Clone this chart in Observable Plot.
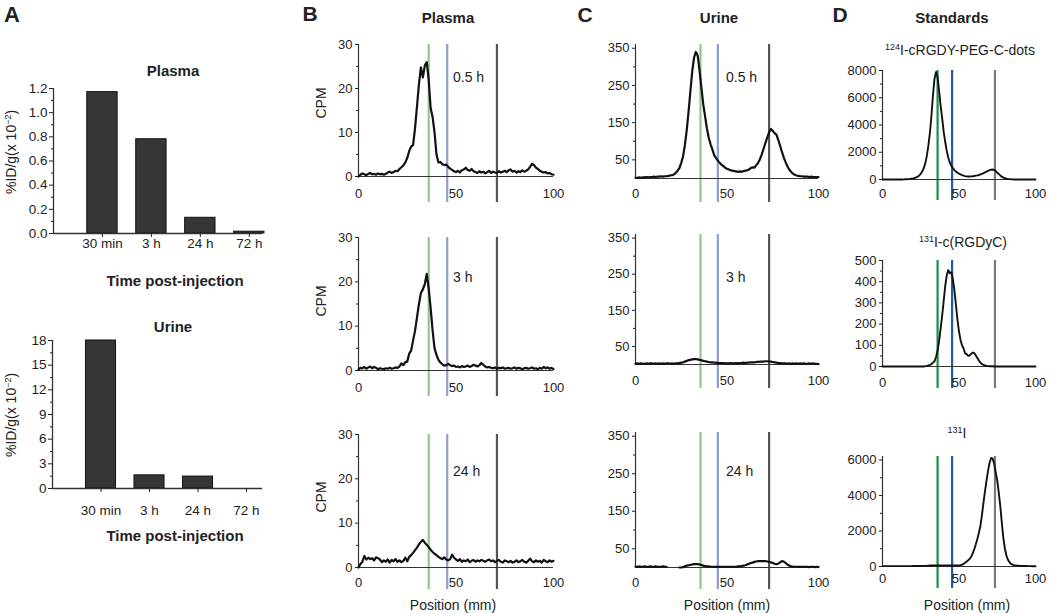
<!DOCTYPE html>
<html><head><meta charset="utf-8">
<script src="https://cdn.jsdelivr.net/npm/d3@7"></script>
<script src="https://cdn.jsdelivr.net/npm/@observablehq/plot@0.6"></script>
<style>
body{margin:0;background:#fff;}
#fig{position:relative;width:1050px;height:614px;font-family:"Liberation Sans",Arial,sans-serif;color:#222;overflow:hidden;background:#fff}
#fig svg{position:absolute;}
.lbl{position:absolute;white-space:nowrap;line-height:1}
.lbl sup{font-size:0.64em;vertical-align:0.55em;line-height:0}
</style></head><body><div id="fig"></div><script>
// ---------- DATA ----------
const timeCats = ["30 min", "3 h", "24 h", "72 h"];
const plasmaPct = [1.17, 0.78, 0.13, 0.015];
const urinePct = [18.0, 1.6, 1.45, 0];
const plasmaTicks = [0, 0.2, 0.4, 0.6, 0.8, 1.0, 1.2];
const urineTicks = [0, 3, 6, 9, 12, 15, 18];

const positionMm = d3.range(0, 101); // 1 mm grid of the radio-TLC scans

const plasma05h = [0,0.4,0.7,0.5,0.3,0.6,0.8,0.5,0.6,0.4,0.7,0.5,0.6,0.4,0.6,0.9,1.1,0.8,1.0,1.3,1.2,1.7,2.1,2.5,3.2,4.2,5.8,6.8,7.2,11,16,21,24.8,22.5,25.2,26,22,15.5,13.5,10,5,3.2,3.3,2.8,2.6,2.7,2.2,1.8,1.5,1.2,1.0,1.3,0.9,1.4,1.6,2.0,1.5,1.3,1.7,1.2,1.0,0.8,1.2,0.9,1.1,0.7,1.0,1.3,0.8,1.1,0.9,0.8,1.2,0.9,1.1,1.3,1.0,1.4,1.6,1.1,1.3,0.9,1.2,1.0,1.4,1.1,1.3,1.6,2.2,2.9,2.6,2.0,1.7,1.3,1.1,0.9,1.0,0.7,0.8,0.5,0.4];
const plasma3h = [0.2,0.6,0.5,0.8,0.4,0.7,0.9,0.5,0.8,0.6,0.3,0.5,0.4,0.3,0.5,0.4,0.6,0.4,0.5,0.7,0.6,0.9,1.6,1.2,1.9,2.0,3.8,4.5,6.8,9,12,15,17.5,18.3,19.5,21.8,18.5,14,9,5,3.5,2.4,1.8,1.4,1.1,1.2,1.5,1.2,1.0,1.1,0.8,0.9,0.7,1.0,0.8,0.9,1.1,0.8,1.0,1.3,1.1,0.9,1.2,1.7,1.3,0.9,0.7,0.8,0.6,0.5,0.7,0.4,0.6,0.5,0.7,0.4,0.5,0.6,0.4,0.5,0.7,0.4,0.6,0.5,0.3,0.5,0.6,0.4,0.5,0.7,0.4,0.5,0.3,0.6,0.4,0.8,0.5,0.7,0.4,0.6,0.3];
const plasma24h = [0,0.8,1.3,2.6,1.8,2.2,1.9,2.1,1.6,2.3,2.1,1.8,1.2,1.6,1.3,1.8,1.1,1.7,1.4,1.9,1.3,1.6,1.2,1.5,2.2,1.4,2.4,2.8,3.3,3.9,4.5,5.2,5.8,6.2,5.6,5.1,4.6,4.0,3.5,3.1,2.8,2.4,2.1,1.9,2.3,1.8,1.6,1.9,2.9,2.2,1.8,1.5,1.9,1.3,1.6,1.4,1.8,1.2,1.5,1.7,1.3,1.6,1.4,1.7,1.5,1.3,1.6,1.8,1.4,1.6,1.2,1.5,1.7,1.3,1.1,1.6,1.4,1.2,1.5,1.1,1.3,1.6,1.2,1.4,1.7,1.3,1.1,1.5,2.0,1.4,1.2,1.6,1.3,1.5,1.1,1.7,1.4,1.2,1.6,1.3,1.5];

const urine05h = [2,2,3,2,3,3,4,3,4,4,5,4,5,5,6,5,6,6,7,8,9,11,15,21,28,42,60,90,130,180,235,288,325,340,330,290,245,200,168,135,110,92,78,63,55,48,42,37,33,29,26,24,22,21,20,19,18,19,18,20,21,22,24,28,30,29,36,42,52,65,80,96,110,124,133,128,122,118,104,88,72,57,44,33,24,18,13,10,8,7,6,6,5,5,5,4,5,4,4,4,4];
const urine3h = [2,3,2,3,2,2,3,2,3,3,2,3,2,3,2,3,2,3,3,2,3,2,3,3,4,5,6,8,10,12,13,14,15,15,14,13,12,10,9,8,7,6,6,5,5,4,4,4,4,3,3,3,4,3,3,4,3,4,4,5,4,5,5,6,6,6,7,7,8,8,8,9,9,8,8,7,6,5,4,4,3,3,3,2,3,2,3,2,3,2,3,2,3,2,2,3,2,3,2,2,1];
const urine24h = [2,2,3,2,2,3,2,2,3,2,2,3,2,2,2,3,2,2,null,null,null,null,null,null,0,0,1,3,5,6,7,8,9,9,9,8,7,5,4,3,3,2,2,2,2,2,2,2,2,2,2,2,2,2,2,2,3,3,4,5,6,8,10,12,13,15,16,17,17,17,17,17,16,15,14,12,10,9,10,14,17,16,12,8,5,3,2,2,2,2,2,2,2,2,2,1,2,2,1,2,1];

const cdotsStd = [0,0,0,0,0,0,0,0,0,0,0,0,0,5,10,15,20,30,40,60,80,110,150,210,300,420,600,850,1200,1750,2500,3450,4700,6200,7400,7900,7500,6500,5400,4500,3500,2750,2100,1600,1250,1000,830,690,580,500,430,370,320,280,250,230,220,220,230,240,260,280,300,330,370,410,460,520,580,640,690,720,730,710,620,500,400,300,210,140,90,60,40,25,15,10,5,5,0,0,0,0,0,0,0,0,0,0,0,0,0];
const rgdycStd = [0,0,0,0,0,0,0,0,0,0,0,0,0,0,0,0,0,0,0,0,0,0,0,0,0,0,0,0,2,3,5,8,12,18,25,45,75,120,180,240,310,380,430,455,440,445,410,360,290,220,165,125,100,85,62,58,50,52,60,66,63,52,40,28,18,12,8,5,3,2,1,1,1,0,0,0,0,0,0,0,0,0,0,0,0,0,0,0,0,0,0,0,0,0,0,0,0,0,0,0,0];
const iodideStd = [20,20,20,20,20,20,20,20,20,20,20,20,20,20,20,20,20,20,20,20,25,25,25,25,30,30,30,35,35,40,50,55,60,55,60,55,60,55,60,60,55,60,55,60,55,60,55,60,60,55,60,70,100,150,210,280,350,430,560,750,980,1250,1550,1900,2300,2900,3600,4250,4850,5400,5850,6120,6080,5800,5300,4850,4150,3400,2450,1600,1000,620,380,240,150,100,70,55,45,40,35,30,30,25,25,20,20,20,15,15,15];

// reference positions (mm) of the vertical marker lines, per column
const markersB = [36, 45.5, 71];
const markersC = [35.5, 45, 73];
const markersD = [36, 45.5, 73.5];

// ---------- STYLE ----------
const FONT = '"Liberation Sans", Arial, sans-serif';
const paleMarker = ["#93c58c", "#8c9fd3", "#555555"];
const deepMarker = ["#0f9640", "#1d5da6", "#7a7a7a"];
const fig = document.getElementById("fig");

function place(svg, left, top) {
  svg.style.left = left + "px";
  svg.style.top = top + "px";
  fig.appendChild(svg);
}

function label(html, x, y, o = {}) {
  const d = document.createElement("div");
  d.className = "lbl";
  d.innerHTML = html;
  d.style.left = x + "px";
  d.style.top = y + "px";
  d.style.fontSize = (o.size || 14) + "px";
  d.style.fontWeight = o.weight || "normal";
  const tx = o.anchor === "start" ? "0" : "-50%";
  d.style.transform = `translate(${tx},-50%)` + (o.rotate ? ` rotate(${o.rotate}deg)` : "");
  fig.appendChild(d);
}

function barChart(o) {
  const mL = 55, mR = 20, mT = 10, mB = 32;
  const data = o.values.map((v, i) => ({pos: i + 1, v}));
  const svg = Plot.plot({
    width: o.fx1 - o.fx0 + mL + mR, height: o.fy1 - o.fy0 + mT + mB,
    marginLeft: mL, marginRight: mR, marginTop: mT, marginBottom: mB,
    style: {background: "transparent", overflow: "visible", fontFamily: FONT, fontSize: "13.5px", color: "#222"},
    x: {domain: [0, o.xMax], label: null},
    y: {domain: o.yDomain, label: null},
    marks: [
      Plot.rectY(data, {x1: d => d.pos - 0.31, x2: d => d.pos + 0.31, y: "v", fill: "#363636", stroke: "#111", strokeWidth: 1}),
      Plot.ruleY([0], {stroke: "#333", strokeWidth: 1.3}),
      Plot.ruleX([0], {stroke: "#333", strokeWidth: 1.3}),
      Plot.axisX({ticks: [1, 2, 3, 4], tickFormat: i => timeCats[i - 1], tickSize: 4, tickPadding: o.xPad, label: null}),
      Plot.axisY({ticks: o.yTicks, tickFormat: o.fmt, tickSize: 4, tickPadding: 2, label: null}),
      Plot.axisY({ticks: o.yMinor, tickFormat: () => "", tickSize: 2, label: null})
    ]
  });
  place(svg, o.fx0 - mL, o.fy0 - mT);
}

function scanChart(o) {
  const mL = 60, mR = 22, mT = 10, mB = 36;
  const data = positionMm.map((x, i) => ({x, y: o.series[i]}));
  const marks = [];
  o.markers.forEach((m, i) => marks.push(Plot.ruleX([m], {stroke: o.colors[i], strokeWidth: 2.2, insetBottom: -o.ext})));
  marks.push(
    Plot.ruleY([0], {stroke: "#333", strokeWidth: 1.2}),
    Plot.ruleX([0], {stroke: "#333", strokeWidth: 1.2}),
    Plot.line(data, {x: "x", y: "y", stroke: "#111", strokeWidth: o.lw || 2.2, strokeLinejoin: "round"}),
    Plot.axisX({ticks: [0, 50, 100], tickSize: 0, tickPadding: o.xPad || 11, label: null}),
    Plot.axisY({ticks: o.yTicks, tickFormat: d => String(d), tickSize: 3, tickPadding: 3, label: null}),
    Plot.axisY({ticks: o.yMinor, tickFormat: () => "", tickSize: 2, label: null})
  );
  const svg = Plot.plot({
    width: o.fx1 - o.fx0 + mL + mR, height: o.fy1 - o.fy0 + mT + mB,
    marginLeft: mL, marginRight: mR, marginTop: mT, marginBottom: mB,
    style: {background: "transparent", overflow: "visible", fontFamily: FONT, fontSize: "13px", color: "#222"},
    x: {domain: [0, 100], label: null},
    y: {domain: o.yDomain, label: null},
    marks
  });
  place(svg, o.fx0 - mL, o.fy0 - mT);
}

// ---------- PANEL A ----------
barChart({fx0: 53, fx1: 262, fy0: 88, fy1: 233, values: plasmaPct, xMax: 4.27, yDomain: [0, 1.2],
  yTicks: plasmaTicks, yMinor: [0.1, 0.3, 0.5, 0.7, 0.9, 1.1], fmt: d => d.toFixed(1), xPad: 1});
barChart({fx0: 52, fx1: 262, fy0: 340, fy1: 488, values: urinePct, xMax: 4.33, yDomain: [0, 18],
  yTicks: urineTicks, yMinor: [1.5, 4.5, 7.5, 10.5, 13.5, 16.5], fmt: d => String(d), xPad: 13});

// ---------- PANEL B ----------
const bTicks = [0, 10, 20, 30], bMinor = [5, 15, 25];
scanChart({fx0: 358, fx1: 553, fy0: 44, fy1: 176, series: plasma05h, yDomain: [0, 30], yTicks: bTicks, yMinor: bMinor, markers: markersB, colors: paleMarker, ext: 26, xPad: 12});
scanChart({fx0: 358, fx1: 553, fy0: 237, fy1: 370, series: plasma3h, yDomain: [0, 30], yTicks: bTicks, yMinor: bMinor, markers: markersB, colors: paleMarker, ext: 26, xPad: 12});
scanChart({fx0: 358, fx1: 553, fy0: 434, fy1: 567, series: plasma24h, yDomain: [0, 30], yTicks: bTicks, yMinor: bMinor, markers: markersB, colors: paleMarker, ext: 22, xPad: 10});

// ---------- PANEL C ----------
const cTicks = [50, 150, 250, 350], cMinor = [100, 200, 300];
scanChart({fx0: 635, fx1: 818, fy0: 44, fy1: 178, series: urine05h, yDomain: [0, 360], yTicks: cTicks, yMinor: cMinor, markers: markersC, colors: paleMarker, ext: 24, xPad: 10});
scanChart({fx0: 635, fx1: 818, fy0: 234, fy1: 364, series: urine3h, yDomain: [0, 360], yTicks: cTicks, yMinor: cMinor, markers: markersC, colors: paleMarker, ext: 24, xPad: 11});
scanChart({fx0: 635, fx1: 818, fy0: 432, fy1: 567, series: urine24h, yDomain: [0, 360], yTicks: cTicks, yMinor: cMinor, markers: markersC, colors: paleMarker, ext: 22, xPad: 10});

// ---------- PANEL D ----------
scanChart({fx0: 882, fx1: 1035, fy0: 70, fy1: 179, series: cdotsStd, yDomain: [0, 8000], yTicks: [0, 2000, 4000, 6000, 8000], yMinor: [1000, 3000, 5000, 7000], markers: markersD, colors: deepMarker, ext: 21, xPad: 9, lw: 1.9});
scanChart({fx0: 882, fx1: 1035, fy0: 260, fy1: 366, series: rgdycStd, yDomain: [0, 500], yTicks: [0, 100, 200, 300, 400, 500], yMinor: [50, 150, 250, 350, 450], markers: markersD, colors: deepMarker, ext: 22, xPad: 11, lw: 1.9});
scanChart({fx0: 882, fx1: 1035, fy0: 456, fy1: 566, series: iodideStd, yDomain: [0, 6200], yTicks: [0, 2000, 4000, 6000], yMinor: [1000, 3000, 5000], markers: markersD, colors: deepMarker, ext: 22, xPad: 7, lw: 1.9});

// ---------- TEXT ----------
label("A", 12, 15, {size: 22, weight: "bold"});
label("B", 310, 13, {size: 21, weight: "bold"});
label("C", 585, 14, {size: 21, weight: "bold"});
label("D", 840, 14, {size: 21, weight: "bold"});

label("Plasma", 173, 70, {size: 15, weight: "bold"});
label("Urine", 173, 326, {size: 15, weight: "bold"});
label("Time post-injection", 175, 280, {size: 15, weight: "bold"});
label("Time post-injection", 175, 535, {size: 15, weight: "bold"});
label("%ID/g(x 10<sup>−2</sup>)", 11, 152, {size: 14, rotate: -90});
label("%ID/g(x 10<sup>−2</sup>)", 11, 415, {size: 14, rotate: -90});

label("Plasma", 448, 17, {size: 15, weight: "bold"});
label("Urine", 719, 17, {size: 15, weight: "bold"});
label("Standards", 952, 17, {size: 15, weight: "bold"});

label("CPM", 321, 103, {size: 14, rotate: -90});
label("CPM", 321, 301, {size: 14, rotate: -90});
label("CPM", 321, 497, {size: 14, rotate: -90});

label("0.5 h", 453, 77, {size: 14, anchor: "start"});
label("3 h", 453, 277, {size: 14, anchor: "start"});
label("24 h", 453, 471, {size: 14, anchor: "start"});
label("0.5 h", 726, 77, {size: 14, anchor: "start"});
label("3 h", 726, 277, {size: 14, anchor: "start"});
label("24 h", 726, 471, {size: 14, anchor: "start"});

label("<sup>124</sup>I-cRGDY-PEG-C-dots", 960, 50, {size: 14});
label("<sup>131</sup>I-c(RGDyC)", 963, 242, {size: 14});
label("<sup>131</sup>I", 957, 433, {size: 14});

label("Position (mm)", 453, 605, {size: 14});
label("Position (mm)", 727, 605, {size: 14});
label("Position (mm)", 967, 605, {size: 14});
</script></body></html>
